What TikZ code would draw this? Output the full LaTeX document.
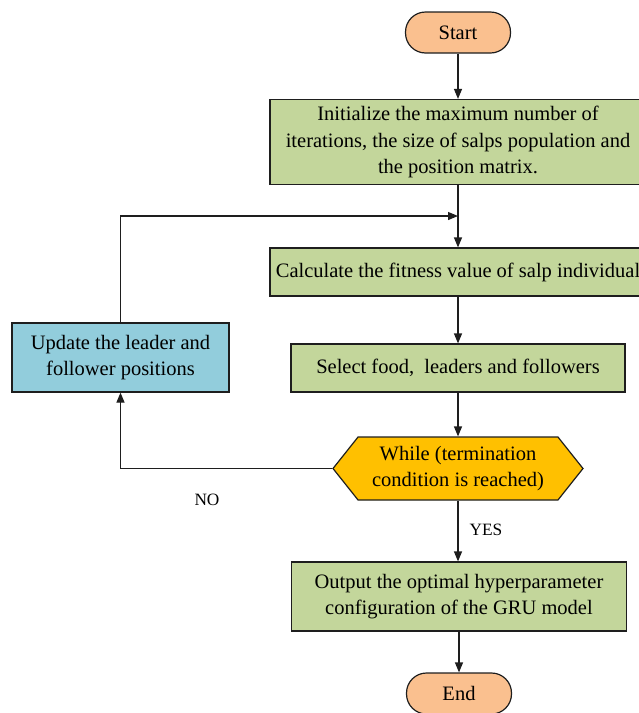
\documentclass[tikz,border=0pt]{standalone}
\usepackage{fontspec}
\setmainfont{Liberation Serif}
\usetikzlibrary{arrows.meta,shapes.symbols}
\definecolor{boxgreen}{RGB}{195,214,155}
\definecolor{boxblue}{RGB}{146,205,220}
\definecolor{termorange}{RGB}{250,192,143}
\definecolor{decyellow}{RGB}{255,192,0}
\definecolor{edge}{RGB}{30,30,30}

\begin{document}
\begin{tikzpicture}[x=1pt,y=-1pt,
  base/.style={draw=edge, line width=1.2pt, align=center, inner sep=0pt,
               text=black, font=\fontsize{20.5}{26.7}\selectfont},
  process/.style={base, rectangle, fill=boxgreen},
  update/.style={base, rectangle, fill=boxblue},
  terminal/.style={base, rectangle, rounded corners=20pt, fill=termorange,
                   minimum width=105pt, minimum height=41pt},
  decision/.style={base, signal, signal to=east and west, signal pointer angle=103,
                   fill=decyellow, minimum width=250pt, minimum height=63pt},
  flow/.style={draw=edge, line width=1.2pt, -{Triangle[length=10pt,width=8pt]}},
  link/.style={draw=edge, line width=1.2pt},
  tag/.style={font=\fontsize{17.3}{20}\selectfont}
]
\useasboundingbox (0,0) rectangle (639,713);
\clip (0,0) rectangle (639,713);

% main column
\node[terminal] (start) at (458,32.5) {Start};
\node[process, minimum width=376pt, minimum height=85pt] (init) at (458,142)
  {Initialize the maximum number of\\iterations, the size of salps population and\\the position matrix.};
\coordinate (merge) at (458,216);
\node[process, minimum width=376pt, minimum height=48pt] (calc) at (458,272)
  {Calculate the fitness value of salp individual};
\node[process, minimum width=334pt, minimum height=48pt] (select) at (458,368)
  {Select food,\ \ leaders and followers};
\node[decision] (while) at (458,468.5) {While (termination\\condition is reached)};
\node[process, minimum width=335pt, minimum height=69pt] (output) at (459,596.5)
  {Output the optimal hyperparameter\\configuration of the GRU model};
\node[terminal] (end) at (459,693.5) {End};

% loop branch
\node[update, minimum width=217pt, minimum height=69pt] (upd) at (120.5,357.5)
  {Update the leader and\\follower positions};

% connectors
\draw[flow] (start) -- (init);
\draw[link] (init.south) -- (merge);
\draw[flow] (merge) -- (calc.north);
\draw[flow] (upd.north) |- (merge);
\draw[flow] (calc) -- (select);
\draw[flow] (select.south) -- (select.south |- while.north);
\draw[flow] (while.west) -| (upd.south);
\draw[flow] (while.south) -- (output.north -| while.south);
\draw[flow] (output) -- (end);

% branch labels
\node[tag] (no) at (207,500) {NO};
\node[tag] (yes) at (486,530) {YES};
\end{tikzpicture}
\end{document}
